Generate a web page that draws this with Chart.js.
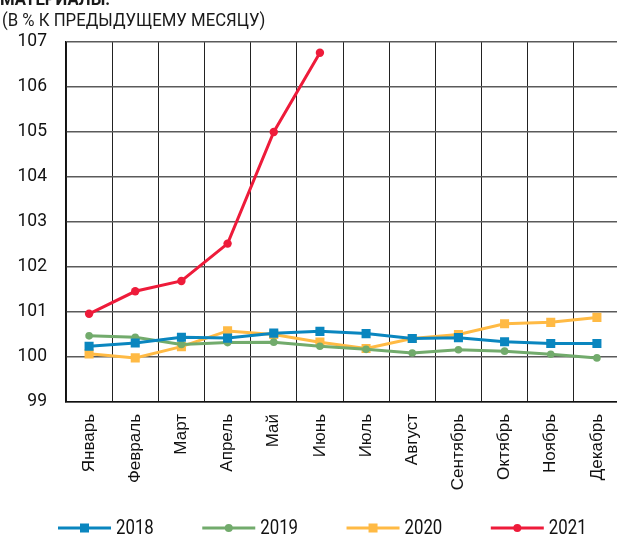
<!DOCTYPE html>
<html>
<head>
<meta charset="utf-8">
<script src="https://cdn.jsdelivr.net/npm/chart.js@4/dist/chart.umd.min.js"></script>
<style>
    html, body { margin: 0; padding: 0; background: #fff; overflow: hidden; }
    #wrap { position: relative; width: 617px; height: 539px; overflow: hidden; }
    .head { position: absolute; left: 0; font-family: Roboto, sans-serif; color: #1a1a1a; white-space: nowrap; line-height: 1; transform-origin: 0 0; }
    #head1 { top: -10px; left: 0; font-size: 18px; font-weight: bold; transform: scaleX(0.93); }
    #head2 { top: 11px; left: 2px; font-size: 18px; transform: scaleX(0.93); }
    #box { position: absolute; left: 0; top: 0; width: 640px; height: 539px; }
</style>
</head>
<body>
<div id="wrap">
    <div id="box"><canvas id="myChart"></canvas></div>
    <div class="head" id="head1">МАТЕРИАЛЫ:</div>
    <div class="head" id="head2">(В % К ПРЕДЫДУЩЕМУ МЕСЯЦУ)</div>
</div>
<script>
const months = ['Январь', 'Февраль', 'Март', 'Апрель', 'Май', 'Июнь', 'Июль', 'Август', 'Сентябрь', 'Октябрь', 'Ноябрь', 'Декабрь'];
const years = ['2018', '2019', '2020', '2021'];

const values2018 = [100.24, 100.31, 100.44, 100.42, 100.53, 100.57, 100.52, 100.41, 100.43, 100.34, 100.30, 100.30];
const values2019 = [100.47, 100.44, 100.28, 100.32, 100.33, 100.24, 100.17, 100.09, 100.16, 100.13, 100.06, 99.98];
const values2020 = [100.07, 99.98, 100.23, 100.58, 100.50, 100.33, 100.19, 100.41, 100.50, 100.74, 100.77, 100.88];
const values2021 = [100.96, 101.46, 101.69, 102.52, 105.0, 106.76];

const yMin = 99;
const yMax = 107;

const blue   = '#0a86bf';
const green  = '#72ab6c';
const orange = '#ffba44';
const red    = '#ee1b3a';
const plain  = "'Liberation Sans', Arial, sans-serif";

function series(label, data, color, style, radius) {
    return {
        label: label,
        data: data,
        borderColor: color,
        backgroundColor: color,
        borderWidth: 3,
        pointStyle: style,
        pointRadius: radius,
        pointBorderWidth: 0,
        pointBackgroundColor: color,
        tension: 0
    };
}

// legend row under the axis: line segment with the series marker, then the year
const lineLegend = {
    id: 'lineLegend',
    afterDraw(chart) {
        const c = chart.ctx;
        const y = 528;
        const squeeze = 0.84;
        let x = 58;
        c.save();
        c.font = '20px Roboto';
        c.textBaseline = 'middle';
        chart.data.datasets.forEach(function(ds) {
            c.strokeStyle = ds.borderColor;
            c.lineWidth = 3;
            c.beginPath();
            c.moveTo(x, y);
            c.lineTo(x + 53, y);
            c.stroke();
            c.fillStyle = ds.borderColor;
            if (ds.pointStyle === 'rect') {
                c.fillRect(x + 22, y - 4.5, 9, 9);
            } else {
                c.beginPath();
                c.arc(x + 26.5, y, 4, 0, Math.PI * 2);
                c.fill();
            }
            c.fillStyle = '#111';
            c.save();
            c.translate(x + 58, y + 1);
            c.scale(squeeze, 1);
            c.fillText(ds.label, 0, 0);
            c.restore();
            x += 58 + c.measureText(ds.label).width * squeeze + 48.5;
        });
        c.restore();
    }
};

const ctx = document.getElementById('myChart');
new Chart(ctx, {
    type: 'line',
    data: {
        labels: months,
        datasets: [
            series(years[0], values2018, blue, 'rect', 6.4),
            series(years[1], values2019, green, 'circle', 3.8),
            series(years[2], values2020, orange, 'rect', 6.4),
            series(years[3], values2021, red, 'circle', 4.2)
        ]
    },
    plugins: [lineLegend],
    options: {
        responsive: true,
        maintainAspectRatio: false,
        animation: false,
        layout: { padding: { top: 42, right: 20, left: 0, bottom: 37 } },
        plugins: {
            tooltip: { enabled: false },
            legend: { display: false }
        },
        scales: {
            x: {
                offset: true,
                grid: { color: '#222', lineWidth: 1, drawTicks: false, offset: true },
                border: { color: '#111', width: 1.5 },
                ticks: {
                    color: '#111',
                    font: { family: plain, size: 17 },
                    minRotation: 90,
                    maxRotation: 90,
                    padding: 12,
                    autoSkip: false
                },
                afterFit: function(scale) { scale.height = 100; }
            },
            y: {
                min: yMin,
                max: yMax,
                grid: { color: '#5a5a5a', lineWidth: 1.4, drawTicks: false },
                border: { color: '#111', width: 1.5 },
                ticks: {
                    stepSize: 1,
                    color: '#111',
                    font: { family: 'Roboto', size: 17.5 },
                    padding: 19
                },
                afterFit: function(scale) { scale.width = 66; }
            }
        }
    }
});
</script>
</body>
</html>
